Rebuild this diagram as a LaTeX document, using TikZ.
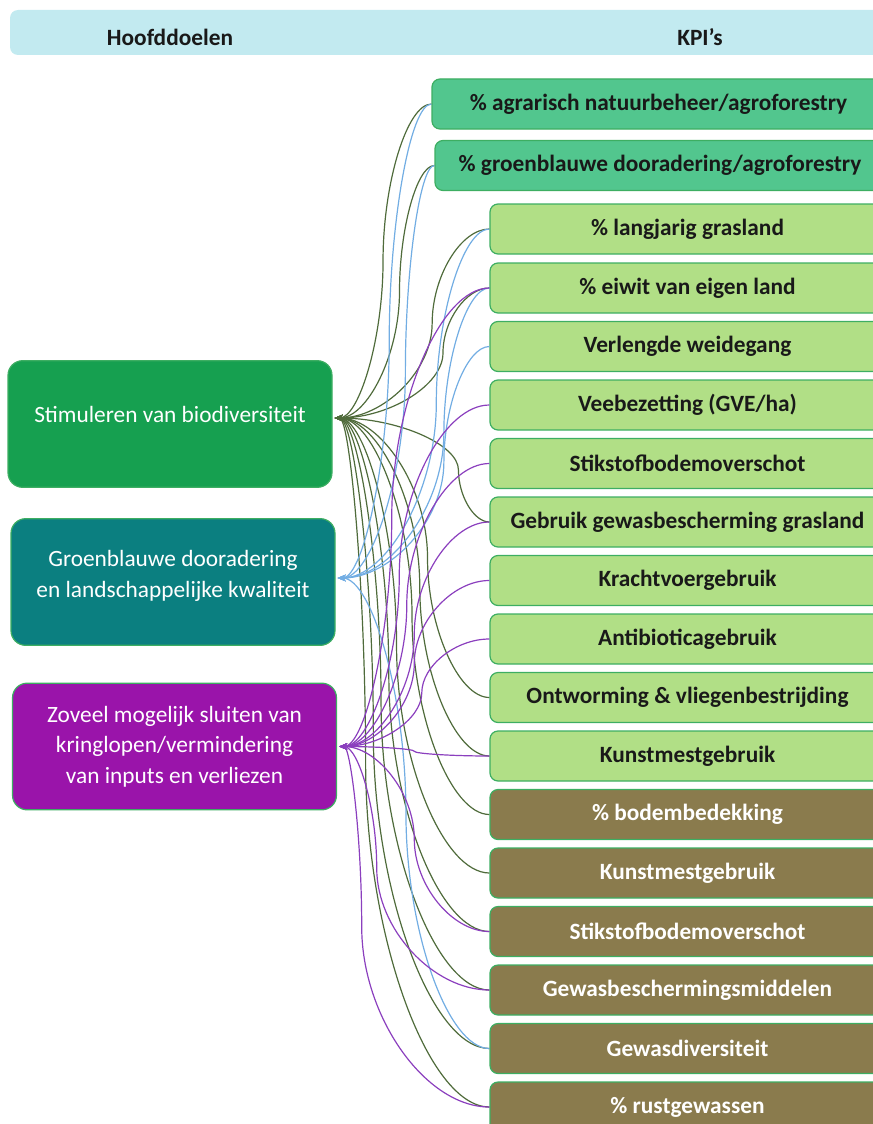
\documentclass[tikz,border=0pt]{standalone}
\usepackage{fontspec}
\setmainfont{Carlito}
\usetikzlibrary{arrows.meta,calc}
\definecolor{hdrcol}{HTML}{C2EAF0}
\definecolor{biocol}{HTML}{16A050}
\definecolor{tealcol}{HTML}{0B7F80}
\definecolor{purpcol}{HTML}{9A14AA}
\definecolor{kpitop}{HTML}{52C68E}
\definecolor{kpimid}{HTML}{B1DF86}
\definecolor{kpilow}{HTML}{8A7B4D}
\definecolor{boxline}{HTML}{3DAE62}
\definecolor{linkgreen}{HTML}{4F6B3B}
\definecolor{linkblue}{HTML}{72ADE3}
\definecolor{linkpurple}{HTML}{8B3FBE}
\tikzset{
  >={Stealth[length=6pt,width=5pt]},
  my goal/.style={
    draw=boxline,
    line width=0.9pt,
    rounded corners=11pt,
    text=white,
    align=center,
    minimum width=243pt,
    minimum height=95pt,
    outer sep=2pt,
    font=\fontsize{17.5pt}{23pt}\selectfont
  },
  my kpi/.style={
    draw=boxline,
    line width=0.9pt,
    rounded corners=6pt,
    minimum height=37.5pt,
    minimum width=296.25pt,
    text=black!90,
    font=\fontsize{17.5pt}{23pt}\selectfont\bfseries
  },
  top kpi/.style={my kpi,fill=kpitop},
  mid kpi/.style={my kpi,fill=kpimid},
  low kpi/.style={my kpi,fill=kpilow,text=white},
  my link/.style={
    to path={let \p1=(\tikztostart), \p2=(\tikztotarget),
      \n1={\x1+#1*(\x2-\x1)} in
      .. controls ({(\x1+\n1)/2},\y1) and (\n1,{(3*\y1+\y2)/4}) .. (\n1,{(\y1+\y2)/2})
      .. controls (\n1,{(\y1+3*\y2)/4}) and ({(\n1+\x2)/2},\y2) .. (\tikztotarget)}
  },
  my link/.default=0.5,
  bio link/.style={<-,draw=linkgreen,line width=0.9pt},
  groen link/.style={<-,draw=linkblue,line width=0.9pt},
  kring link/.style={<-,draw=linkpurple,line width=0.9pt}
}
\begin{document}
\begin{tikzpicture}[x=0.75pt,y=-0.75pt]
\useasboundingbox (0,0) rectangle (873,1124);
\clip (0,0) rectangle (873,1124);
% header
\node (hdr) [fill=hdrcol,rounded corners=6pt,minimum width=667.5pt,minimum height=33.75pt] at (455,32.5) {};
\node (hoofd) [font=\fontsize{17.5pt}{23pt}\selectfont\bfseries,text=black!90] at (170,37) {Hoofddoelen};
\node (kpis) [font=\fontsize{17.5pt}{23pt}\selectfont\bfseries,text=black!90] at (700,37) {KPI’s};
% hoofddoelen
\node (bio) [my goal,fill=biocol,text depth=15pt] at (170,424) {Stimuleren van biodiversiteit};
\node (groen) [my goal,fill=tealcol,text depth=12pt] at (173,582) {Groenblauwe dooradering\\en landschappelijke kwaliteit};
\node (kring) [my goal,fill=purpcol] at (174.5,746.5) {Zoveel mogelijk sluiten van\\kringlopen/vermindering\\van inputs en verliezen};
% KPI's
\node (natuur)      [top kpi,minimum width=339.75pt] at (658.5,104) {\% agrarisch natuurbeheer/agroforestry};
\node (dooradering) [top kpi,minimum width=337.5pt]  at (660,165.5) {\% groenblauwe dooradering/agroforestry};
\node (grasland)  [mid kpi] at (687.5,229)    {\% langjarig grasland};
\node (eiwit)     [mid kpi] at (687.5,288)    {\% eiwit van eigen land};
\node (weide)     [mid kpi] at (687.5,346.5)  {Verlengde weidegang};
\node (vee)       [mid kpi] at (687.5,405)    {Veebezetting (GVE/ha)};
\node (stikstof)  [mid kpi] at (687.5,463.5)  {Stikstofbodemoverschot};
\node (gewasgras) [mid kpi] at (687.5,522)    {Gebruik gewasbescherming grasland};
\node (kracht)    [mid kpi] at (687.5,580.5)  {Krachtvoergebruik};
\node (anti)      [mid kpi] at (687.5,639)    {Antibioticagebruik};
\node (worm)      [mid kpi] at (687.5,697.5)  {Ontworming \& vliegenbestrijding};
\node (kunst)     [mid kpi] at (687.5,756)    {Kunstmestgebruik};
\node (bodem)     [low kpi] at (687.5,814.5)  {\% bodembedekking};
\node (kunstb)    [low kpi] at (687.5,873)    {Kunstmestgebruik};
\node (stikstofb) [low kpi] at (687.5,931.5)  {Stikstofbodemoverschot};
\node (gewasb)    [low kpi] at (687.5,990)    {Gewasbeschermingsmiddelen};
\node (divers)    [low kpi] at (687.5,1048.5) {Gewasdiversiteit};
\node (rust)      [low kpi] at (687.5,1107)   {\% rustgewassen};
% verbindingen
\foreach \kpi/\f in {natuur/0.5,dooradering/0.65,grasland/0.63,eiwit/0.7,gewasgras/0.8,worm/0.6,kunst/0.55,
                     bodem/0.5,kunstb/0.4,stikstofb/0.35,gewasb/0.3,divers/0.25,rust/0.2}
  \draw[bio link] ([yshift=4.5pt]bio.east) to[my link=\f] (\kpi.west);
\foreach \kpi/\f in {natuur/0.55,dooradering/0.7,grasland/0.65,eiwit/0.7,weide/0.7,divers/0.45}
  \draw[groen link] ([yshift=3pt]groen.east) to[my link=\f] (\kpi.west);
\foreach \kpi/\f in {eiwit/0.35,vee/0.4,stikstof/0.45,gewasgras/0.5,kracht/0.5,anti/0.55,kunst/0.5,
                     stikstofb/0.5,gewasb/0.25,rust/0.15}
  \draw[kring link] (kring.east) to[my link=\f] (\kpi.west);
\end{tikzpicture}
\end{document}
